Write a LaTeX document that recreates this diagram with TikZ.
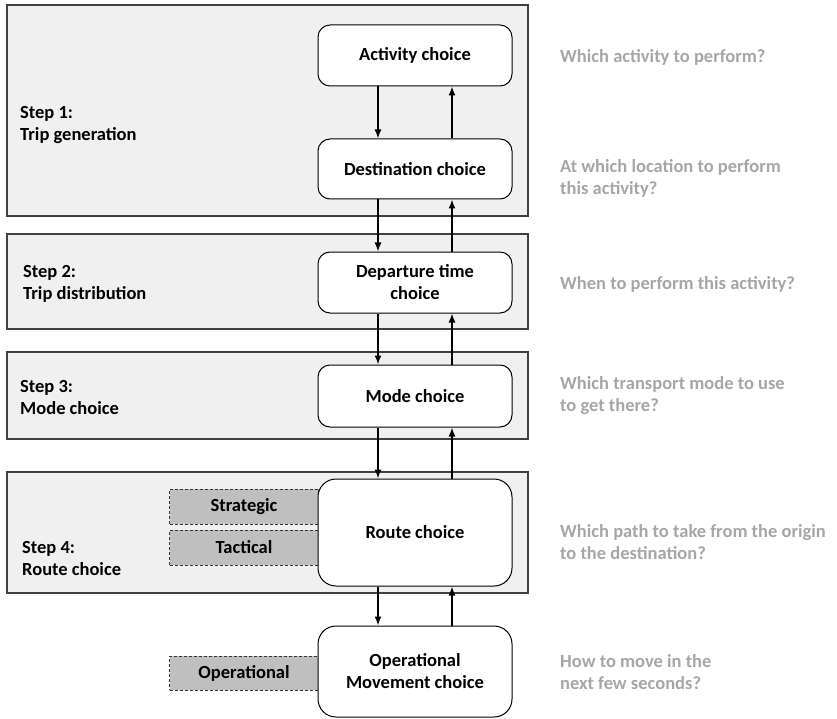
\documentclass[tikz,border=0pt]{standalone}
\usepackage{fontspec}
\setmainfont{Carlito}
\usetikzlibrary{positioning,arrows.meta}
\definecolor{panelgray}{HTML}{F0F0F0}
\definecolor{levelgray}{HTML}{BFBFBF}
\definecolor{askgray}{HTML}{A6A6A6}

\begin{document}
\begin{tikzpicture}[x=1pt, y=-1pt, >={Latex[length=9pt,width=7pt]}, font=\fontsize{18.5}{22}\selectfont\bfseries]
    \tikzstyle{panel}=[draw=black!75,line width=1.2pt,fill=panelgray]
    \tikzstyle{choice}=[rectangle,draw,line width=1pt,rounded corners=12pt,fill=white,minimum width=194pt,minimum height=61pt,align=center,inner sep=0pt]
    \tikzstyle{level}=[rectangle,draw=black!80,line width=0.9pt,dash pattern=on 3pt off 2pt,fill=levelgray,minimum width=149pt,inner sep=0pt]
    \tikzstyle{steplabel}=[anchor=west,align=left,inner sep=0pt]
    \tikzstyle{ask}=[anchor=west,align=left,text=askgray,inner sep=0pt]
    \tikzstyle{flow}=[->,line width=1.4pt]
    \useasboundingbox (0,0) rectangle (837,719);
    % the four steps
    \draw[panel] (7,5) rectangle (528,216);
    \draw[panel] (7,234) rectangle (528,329);
    \draw[panel] (7,352) rectangle (528,439);
    \draw[panel] (7,472) rectangle (528,593);
    \node[steplabel] (s1) at (20,125) {Step 1:\\Trip generation};
    \node[steplabel] (s2) at (23,284) {Step 2:\\Trip distribution};
    \node[steplabel] (s3) at (20,397) {Step 3:\\Mode choice};
    \node[steplabel] (s4) at (22,558) {Step 4:\\Route choice};
    % levels of route choice
    \node[level,minimum height=35pt] (strategic) at (244,506.5) {Strategic};
    \node[level,minimum height=35pt] (tactical) at (244,547.5) {Tactical};
    \node[level,minimum height=34pt] (operational) at (244,673) {Operational};
    % choices
    \node[choice] (activity) at (415,55.5) {Activity choice};
    \node[choice,minimum height=60pt] (destination) at (415,169) {Destination choice};
    \node[choice] (departure) at (415,282.5) {Departure time\\choice};
    \node[choice,minimum height=62pt] (mode) at (415,396) {Mode choice};
    \node[choice,minimum height=107pt,rounded corners=18pt] (route) at (415,532.5) {Route choice};
    \node[choice,minimum height=91pt,rounded corners=18pt] (movement) at (415,671.5) {Operational\\Movement choice};
    % down and up between the choices
    \foreach \a/\b in {activity/destination,destination/departure,departure/mode,mode/route,route/movement}{
      \draw[flow] ([xshift=-37pt]\a.south) -- ([xshift=-37pt]\b.north);
      \draw[flow] ([xshift=37pt]\b.north) -- ([xshift=37pt]\a.south);
    }
    % questions
    \node[ask] (q1) at (560,57) {Which activity to perform?};
    \node[ask] (q2) at (560,178.5) {At which location to perform\\this activity?};
    \node[ask] (q3) at (560,284) {When to perform this activity?};
    \node[ask] (q4) at (560,395.5) {Which transport mode to use\\to get there?};
    \node[ask] (q5) at (560,542.5) {Which path to take from the origin\\to the destination?};
    \node[ask] (q6) at (560,672) {How to move in the\\next few seconds?};
\end{tikzpicture}
\end{document}
